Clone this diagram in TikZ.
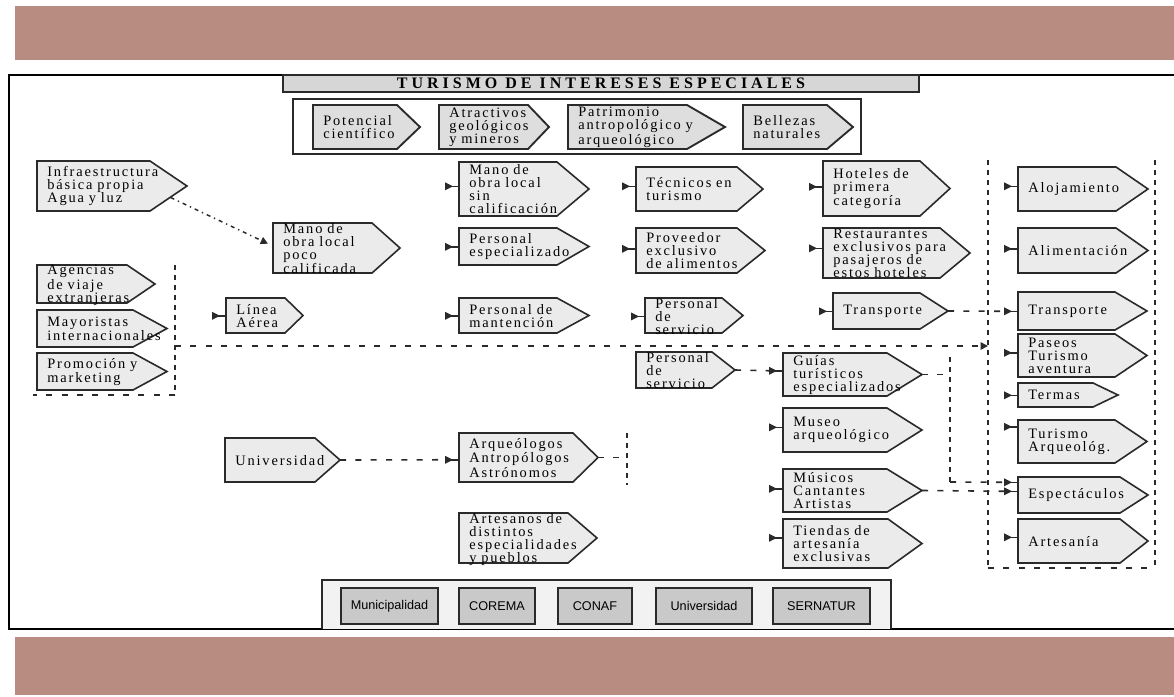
\documentclass[tikz,border=0pt]{standalone}
\usepackage{fontspec}
\setmainfont{Liberation Serif}
\newfontfamily\boxfont{Liberation Serif}[LetterSpace=13]
\newfontfamily\titlefont{Liberation Serif}[LetterSpace=25]
\newfontfamily\smallfont{Liberation Sans}
\usetikzlibrary{calc,arrows.meta}
\definecolor{band}{HTML}{B88C80}
\definecolor{boxfill}{HTML}{EBEBEB}
\definecolor{topfill}{HTML}{DEDEDE}
\definecolor{titlefill}{HTML}{D6D6D6}
\definecolor{edge}{HTML}{2A2A2A}
\definecolor{govfill}{HTML}{C9C9C9}
\definecolor{govbg}{HTML}{F2F2F2}
\hyphenpenalty=10000 \exhyphenpenalty=10000
\newcommand\pent[8][pshape]{%
  \pgfmathsetmacro\pentw{(#5-#3)*0.75-15}%
  \pgfmathsetmacro\penth{(#6-#4)*0.75}%
  \filldraw[#1] (#3,#4) -- (#5,#4) -- (#7,{(#4+#6)/2}) -- (#5,#6) -- (#3,#6) -- cycle;
  \node[ptext, text width=\pentw pt, minimum height=\penth pt, anchor=north west] (#2) at (#3,#4) {#8};
  \coordinate (#2-tip) at (#7,{(#4+#6)/2});
}
\newcommand\mk[2]{%
  \fill[edge] ($(#1.west)+(-14,#2-4)$) -- ($(#1.west)+(-6,#2)$) -- ($(#1.west)+(-14,#2+4)$) -- cycle;
  \draw[edge, line width=1.1pt] ($(#1.west)+(-8,#2)$) -- ($(#1.west)+(0,#2)$);
}
\begin{document}
\begin{tikzpicture}[x=0.75pt,y=-0.75pt,
  pshape/.style={draw=edge, fill=boxfill, line width=1.2pt, line join=miter},
  tshape/.style={draw=edge, fill=topfill, line width=1.4pt, line join=miter},
  ptext/.style={inner xsep=7.5pt, inner ysep=0pt, align=left,
     font=\boxfont\fontsize{10.8}{9.8}\selectfont},
  hdash/.style={draw=edge, line width=1.2pt, dash pattern=on 4.5pt off 7pt},
  vdash/.style={draw=edge, line width=1.2pt, dash pattern=on 3.5pt off 4pt},
  dashdot/.style={draw=edge, line width=1.1pt, dash pattern=on 3pt off 3pt on 1pt off 3pt},
  tipa/.style={-{Triangle[length=5.5pt,width=5.5pt]}},
  gov/.style={draw=edge, fill=govfill, line width=1.1pt, minimum height=27pt, inner sep=0pt,
     font=\smallfont\fontsize{9.5}{10}\selectfont}
]
\useasboundingbox (0,0) rectangle (1174,696);
\fill[white] (0,0) rectangle (1174,696);
\fill[band] (15,6) rectangle (1174,60);
\fill[band] (15,637) rectangle (1174,695);
\draw[black, line width=1.6pt] (1174,75) -- (9,75) -- (9,629) -- (1174,629);

% title and attribute strip
\node[draw=edge, fill=titlefill, line width=1.3pt, minimum width=477pt, minimum height=12.75pt,
      inner sep=0pt, font=\titlefont\bfseries\fontsize{12}{12}\selectfont] (title) at (601,83.5)
      {TURISMO DE INTERESES ESPECIALES};
\node[draw=edge, line width=1.7pt, minimum width=426pt, minimum height=41.25pt, inner sep=0pt] (attr) at (577,126.5) {};
\pent[tshape]{pot}{313}{105}{397}{149}{420}{Potencial\\científico}
\pent[tshape]{atr}{439}{105}{528}{149}{549}{Atractivos\\geológicos\\y~mineros}
\pent[tshape]{pat}{568}{105}{687}{149}{725}{Patrimonio\\antropológico~y\\arqueológico}
\pent[tshape]{bel}{743}{105}{827}{149}{853}{Bellezas\\naturales}

% row 1
\pent{infra}{37}{161}{150}{211}{187}{Infraestructura\\básica~propia\\Agua~y~luz}
\pent{mano1}{459}{162}{557}{216}{589}{Mano~de\\obra~local\\sin\\calificación}
\pent{tec}{636}{167}{737}{211}{763}{Técnicos~en\\turismo}
\pent{hot}{823}{161}{920}{216}{950}{Hoteles~de\\primera\\categoría}
\pent{aloj}{1018}{167}{1116}{211}{1148}{Alojamiento}
% row 2
\pent{mano2}{273}{223}{372}{273}{400}{Mano~de\\obra~local\\poco\\calificada}
\pent{pesp}{459}{228}{557}{265}{589}{Personal\\especializado}
\pent{prov}{636}{228}{737}{273}{765}{Proveedor\\exclusivo\\de~alimentos}
\pent{rest}{823}{228}{940}{278}{970}{Restaurantes\\exclusivos~para\\pasajeros~de\\estos~hoteles}
\pent{alim}{1018}{228}{1116}{273}{1148}{Alimentación}
% row 3
\pent{ag}{37}{265}{127}{303}{155}{Agencias\\de~viaje\\extranjeras}
\pent{may}{37}{310}{133}{347}{167}{Mayoristas\\internacionales}
\pent{prom}{37}{353}{133}{390}{167}{Promoción~y\\marketing}
\pent{linea}{226}{298}{285}{333}{303}{Línea\\Aérea}
\pent{pman}{459}{298}{557}{333}{589}{Personal~de\\mantención}
\pent{pser1}{645}{298}{722}{333}{743}{Personal\\de\\servicio}
\pent{tr1}{833}{293}{920}{329}{948}{Transporte}
\pent{tr2}{1018}{292}{1115}{330}{1147}{Transporte}
\pent{pas}{1018}{334}{1115}{377}{1147}{Paseos\\Turismo\\aventura}
% lower part
\pent{pser2}{636}{352}{712}{388}{735}{Personal\\de\\servicio}
\pent{guias}{783}{353}{887}{396}{922}{Guías\\turísticos\\especializados}
\pent{termas}{1018}{383}{1093}{407}{1118}{Termas}
\pent{museo}{783}{408}{887}{452}{922}{Museo\\arqueológico}
\pent{tarq}{1018}{420}{1115}{463}{1147}{Turismo\\Arqueológ.}
\pent{univ}{225}{438}{315}{482}{340}{Universidad}
\pent{arq}{459}{433}{573}{482}{598}{Arqueólogos\\Antropólogos\\Astrónomos}
\pent{mus}{783}{469}{887}{512}{922}{Músicos\\Cantantes\\Artistas}
\pent{esp}{1018}{477}{1120}{513}{1148}{Espectáculos}
\pent{arts}{459}{513}{568}{563}{597}{Artesanos~de\\distintos\\especialidades\\y~pueblos}
\pent{tie}{783}{519}{888}{568}{922}{Tiendas~de\\artesanía\\exclusivas}
\pent{arte}{1018}{519}{1120}{563}{1148}{Artesanía}

% markers
\mk{mano1}{-3}\mk{tec}{-3}\mk{hot}{-2}\mk{aloj}{-3}
\mk{pesp}{0}\mk{prov}{-2}\mk{rest}{-5}\mk{alim}{-2}
\mk{linea}{0}\mk{pman}{0}\mk{pser1}{0}\mk{tr1}{0}\mk{tr2}{0}\mk{pas}{-3}
\mk{termas}{0}\mk{tarq}{-15}\mk{guias}{-4}\mk{museo}{-3}\mk{mus}{-2}\mk{tie}{-6}
\mk{arq}{2}\mk{esp}{-13}\mk{esp}{-4}\mk{arte}{-4}

% connectors
\draw[dashdot, tipa] ($(infra-tip)!0.45!(infra.south east)$) -- ($(mano2.west)+(-5,-5)$);
\draw[hdash] (tr1-tip) -- ($(tr2.west)+(-12,0)$);
\draw[hdash] (pser2-tip) -- ($(guias.west)+(-12,-4)$);
\draw[hdash] (univ-tip) -- ($(arq.west)+(-12,2)$);
\draw[hdash] (mus-tip) -- ($(esp.west)+(-12,-4)$);

\coordinate (aqtop) at (627,433);
\coordinate (aqbot) at (627,485);
\draw[vdash] (aqtop) -- (aqbot);
\draw[hdash] (arq-tip) -- (arq-tip -| aqtop);

\coordinate (jtop) at (950,357);
\coordinate (jbot) at (950,482);
\draw[vdash] (jtop) -- (jbot);
\draw[hdash] (guias-tip) -- (guias-tip -| jtop);
\draw[hdash] ($(termas.west)+(-12,0)$ -| jtop) -- ($(termas.west)+(-12,0)$);
\draw[hdash] (jbot) -- ($(esp.west)+(-12,-13)$);

% agencies group
\coordinate (agtop) at (175,265);
\coordinate (agbot) at (175,395);
\coordinate (agleft) at (33,395);
\draw[vdash] (agtop) -- (agbot);
\draw[hdash] (agbot) -- (agleft);
\coordinate (agout) at (175,346);
% right group
\coordinate (rtl) at (988,160);
\coordinate (rbl) at (988,568);
\coordinate (rtr) at (1155,160);
\coordinate (rbr) at (1155,568);
\draw[vdash] (rtl) -- (rbl);
\draw[vdash] (rtr) -- (rbr);
\draw[hdash] (rbl) -- (rbr);
\draw[hdash, tipa] (agout) -- (agout -| rtl);

% bottom institutions
\filldraw[draw=edge, fill=govbg, line width=1.1pt] (322,629) -- (322,580) -- (891,580) -- (891,629);
\node[gov, minimum width=72.75pt] (mun) at (389.5,606) {Municipalidad};
\node[gov, minimum width=57pt] (cor) at (497,606) {COREMA};
\node[gov, minimum width=55.5pt] (con) at (595,606) {CONAF};
\node[gov, minimum width=72pt] (uni2) at (704,606) {Universidad};
\node[gov, minimum width=72.75pt] (ser) at (821.5,606) {SERNATUR};
\end{tikzpicture}
\end{document}
